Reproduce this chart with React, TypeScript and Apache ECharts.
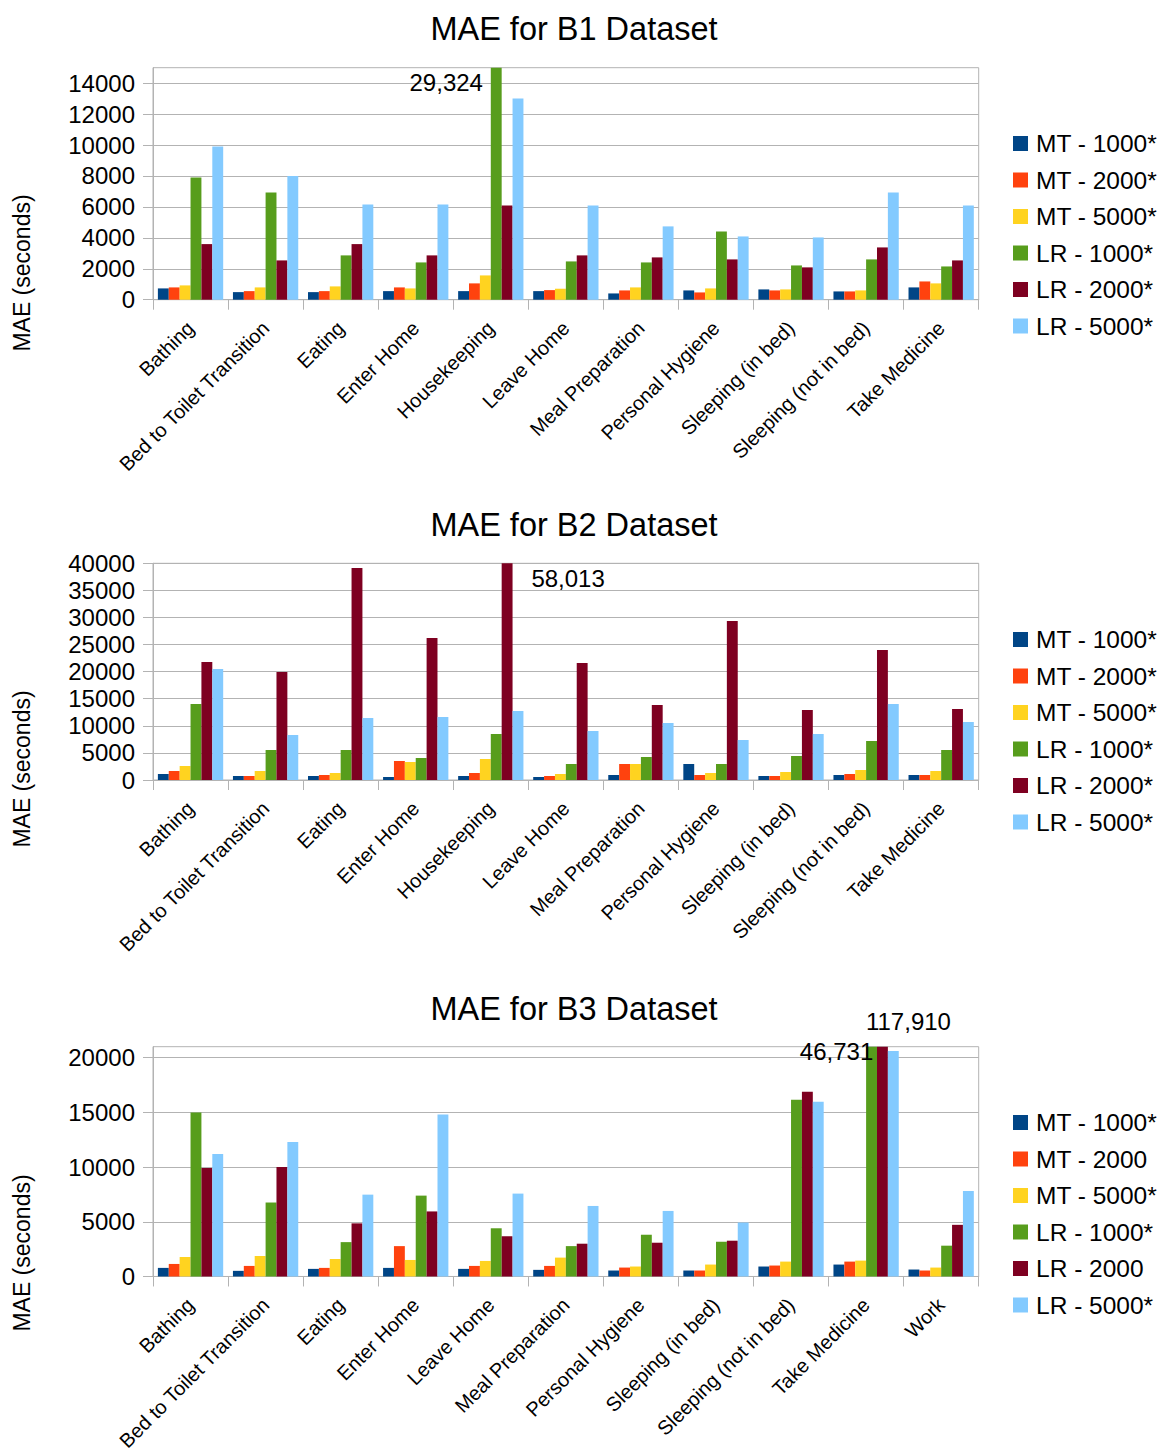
import React, { useEffect, useRef } from "react";
import * as echarts from "echarts";

const CATS_B1 = ["Bathing", "Bed to Toilet Transition", "Eating", "Enter Home", "Housekeeping", "Leave Home", "Meal Preparation", "Personal Hygiene", "Sleeping (in bed)", "Sleeping (not in bed)", "Take Medicine"];
const CATS_B2 = CATS_B1;
const CATS_B3 = ["Bathing", "Bed to Toilet Transition", "Eating", "Enter Home", "Leave Home", "Meal Preparation", "Personal Hygiene", "Sleeping (in bed)", "Sleeping (not in bed)", "Take Medicine", "Work"];

const NAMES_B1 = ["MT - 1000*", "MT - 2000*", "MT - 5000*", "LR - 1000*", "LR - 2000*", "LR - 5000*"];
const NAMES_B2 = NAMES_B1;
const NAMES_B3 = ["MT - 1000*", "MT - 2000", "MT - 5000*", "LR - 1000*", "LR - 2000", "LR - 5000*"];

const B1_MT1000 = [730, 490, 490, 555, 555, 555, 405, 600, 665, 535, 795];
const B1_MT2000 = [795, 555, 555, 795, 1055, 620, 600, 470, 600, 535, 1180];
const B1_MT5000 = [925, 795, 860, 730, 1570, 710, 795, 730, 665, 600, 1055];
const B1_LR1000 = [7905, 6935, 2865, 2410, 29324, 2475, 2410, 4410, 2215, 2605, 2150];
const B1_LR2000 = [3595, 2540, 3595, 2865, 6095, 2865, 2735, 2605, 2090, 3380, 2540];
const B1_LR5000 = [9910, 7990, 6160, 6160, 13010, 6095, 4740, 4090, 4025, 6935, 6095];

const B2_MT1000 = [1110, 740, 740, 555, 740, 555, 925, 2955, 740, 925, 925];
const B2_MT2000 = [1660, 740, 925, 3510, 1290, 740, 2955, 925, 740, 1110, 925];
const B2_MT5000 = [2585, 1660, 1290, 3325, 3875, 1110, 2955, 1290, 1475, 1845, 1660];
const B2_LR1000 = [14030, 5540, 5540, 4060, 8490, 2955, 4245, 2955, 4430, 7200, 5540];
const B2_LR2000 = [21785, 19940, 39140, 26215, 58013, 21600, 13845, 29355, 12925, 24000, 13110];
const B2_LR5000 = [20490, 8310, 11445, 11630, 12740, 9045, 10525, 7385, 8490, 14030, 10710];

const B3_MT1000 = [785, 515, 695, 785, 695, 605, 545, 545, 910, 1090, 635];
const B3_MT2000 = [1145, 965, 785, 2775, 965, 965, 815, 545, 1000, 1360, 545];
const B3_MT5000 = [1780, 1870, 1600, 1510, 1420, 1725, 910, 1090, 1360, 1450, 815];
const B3_LR1000 = [14995, 6760, 3140, 7390, 4405, 2775, 3815, 3175, 16160, 46731, 2815];
const B3_LR2000 = [9925, 10015, 4855, 5945, 3680, 2995, 3085, 3270, 16885, 117910, 4720];
const B3_LR5000 = [11195, 12280, 7480, 14815, 7575, 6445, 5990, 4930, 15975, 20605, 7805];

const Y_MAX = [15000, 40000, 21000];
const Y_INTERVAL = [2000, 5000, 5000];
const TITLES = ["MAE for B1 Dataset", "MAE for B2 Dataset", "MAE for B3 Dataset"];

const COLORS = ["#004586", "#ff420e", "#ffd320", "#579d1c", "#7e0021", "#83caff"];
const FONT = "'Liberation Sans', Arial, sans-serif";
const GRID_COLOR = "#b3b3b3";

// layout (pixels)
const GRID_TOPS = [67.7, 563.3, 1046.7];
const GRID_HEIGHTS = [232, 216.7, 231.6];
const TITLE_TOPS = [12, 508, 992];
const LEGEND_TOPS = [131, 627, 1110];
const YNAME_Y = [273, 769, 1253];

// overflow annotations: [chart, series, category, anchor value, dx, dy]
const NOTES: [number, number, number, number, number, number][] = [
  [0, 3, 4, 15000, -50, 15],
  [1, 4, 4, 40000, 61, 15],
  [2, 3, 9, 21000, -35, 5],
  [2, 4, 9, 21000, 26, -25],
];

export default function App() {
  const ref = useRef<HTMLDivElement>(null);
  useEffect(() => {
    document.body.style.margin = "0";
    const chart = echarts.init(ref.current!, null, { renderer: "svg" });
    const cats = [CATS_B1, CATS_B2, CATS_B3];
    const names = [NAMES_B1, NAMES_B2, NAMES_B3];
    const data = [
      [B1_MT1000, B1_MT2000, B1_MT5000, B1_LR1000, B1_LR2000, B1_LR5000],
      [B2_MT1000, B2_MT2000, B2_MT5000, B2_LR1000, B2_LR2000, B2_LR5000],
      [B3_MT1000, B3_MT2000, B3_MT5000, B3_LR1000, B3_LR2000, B3_LR5000],
    ];
    const fmt = (v: number) => v.toLocaleString("en-US");

    const series: any[] = [];
    for (let c = 0; c < 3; c++) {
      for (let s = 0; s < 6; s++) {
        const notes = NOTES.filter((n) => n[0] === c && n[1] === s);
        series.push({
          type: "bar",
          name: names[c][s],
          xAxisIndex: c,
          yAxisIndex: c,
          data: data[c][s],
          itemStyle: { color: COLORS[s] },
          barGap: "0%",
          barCategoryGap: "13%",
          clip: true,
          emphasis: { disabled: true },
          markPoint: notes.length
            ? {
                symbol: "circle",
                symbolSize: 1,
                itemStyle: { color: "rgba(0,0,0,0)" },
                data: notes.map((n) => ({
                  coord: [cats[c][n[2]], n[3]],
                  label: {
                    show: true,
                    position: "inside",
                    offset: [n[4], n[5]],
                    formatter: fmt(data[c][s][n[2]]),
                    fontSize: 24,
                    fontFamily: FONT,
                    color: "#000",
                  },
                })),
              }
            : undefined,
        });
      }
    }

    const option: any = {
      animation: false,
      backgroundColor: "#fff",
      textStyle: { fontFamily: FONT },
      title: TITLES.map((t, i) => ({
        text: t,
        left: 574,
        top: TITLE_TOPS[i],
        textAlign: "center",
        padding: 0,
        textStyle: { fontSize: 32.5, fontWeight: "normal", color: "#000", fontFamily: FONT },
      })),
      legend: names.map((n, i) => ({
        data: n,
        orient: "vertical",
        left: 1013,
        top: LEGEND_TOPS[i],
        padding: 0,
        icon: "rect",
        itemWidth: 15,
        itemHeight: 15,
        itemGap: 11.5,
        selectedMode: false,
        textStyle: { fontSize: 24.5, color: "#000", fontFamily: FONT, padding: [0, 0, 0, 3] },
      })),
      grid: GRID_TOPS.map((t, i) => ({
        left: 153,
        width: 825.7,
        top: t,
        height: GRID_HEIGHTS[i],
        show: true,
        borderColor: GRID_COLOR,
        borderWidth: 1,
        containLabel: false,
      })),
      xAxis: cats.map((c, i) => ({
        type: "category",
        gridIndex: i,
        data: c,
        axisLine: { lineStyle: { color: GRID_COLOR, width: 1 } },
        axisTick: { show: true, length: 10, lineStyle: { color: GRID_COLOR }, alignWithLabel: false },
        axisLabel: { interval: 0, rotate: 45, fontSize: 20, color: "#000", fontFamily: FONT, margin: 25 },
      })),
      yAxis: Y_MAX.map((m, i) => {
        const ticks: number[] = [];
        for (let v = 0; v <= m; v += Y_INTERVAL[i]) ticks.push(v);
        return {
          type: "value",
          gridIndex: i,
          min: 0,
          max: m,
          interval: Y_INTERVAL[i],
          axisLine: { show: true, lineStyle: { color: GRID_COLOR, width: 1 } },
          axisTick: { show: true, length: 10, lineStyle: { color: GRID_COLOR }, customValues: ticks },
          axisLabel: {
            fontSize: 24,
            color: "#000",
            fontFamily: FONT,
            margin: 18,
            customValues: ticks,
            formatter: (v: number) => (v > ticks[ticks.length - 1] ? "" : String(v)),
          },
          splitLine: { show: true, lineStyle: { color: GRID_COLOR, width: 1 } },
        };
      }),
      graphic: YNAME_Y.map((y) => ({
        type: "text",
        x: 22,
        y,
        rotation: Math.PI / 2,
        style: {
          text: "MAE (seconds)",
          fontSize: 23,
          fontFamily: FONT,
          fill: "#000",
          align: "center",
          verticalAlign: "middle",
        },
      })),
      series,
    };
    chart.setOption(option);
    return () => chart.dispose();
  }, []);
  return <div ref={ref} style={{ width: 1159, height: 1454 }} />;
}
